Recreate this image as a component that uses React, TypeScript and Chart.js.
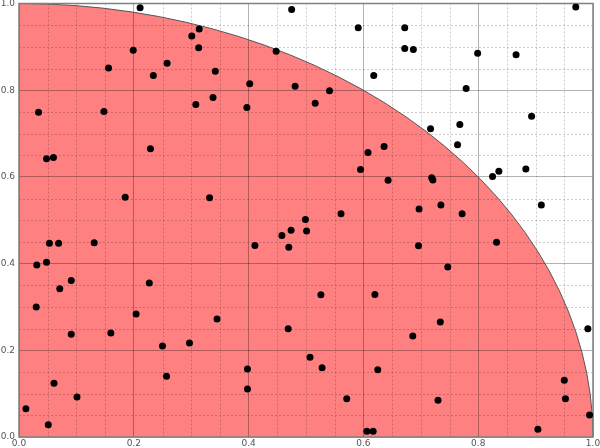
import { useEffect, useRef } from "react";
import { Chart, registerables } from "chart.js";

Chart.register(...registerables);

// random sample points (x, y)
const xs = [
  0.211, 0.314, 0.301, 0.313, 0.199, 0.258, 0.156, 0.234, 0.034, 0.148,
  0.308, 0.229, 0.475, 0.591, 0.448, 0.342, 0.402, 0.618, 0.481, 0.541,
  0.338, 0.397, 0.516, 0.636, 0.608, 0.970, 0.672, 0.672, 0.687, 0.799,
  0.866, 0.779, 0.893, 0.717, 0.768, 0.764, 0.883, 0.836, 0.825, 0.719,
  0.721, 0.910, 0.697, 0.735, 0.772, 0.696, 0.832, 0.747, 0.595, 0.643,
  0.332, 0.561, 0.499, 0.474, 0.458, 0.501, 0.411, 0.470, 0.526, 0.620,
  0.048, 0.060, 0.185, 0.053, 0.069, 0.131, 0.031, 0.048, 0.091, 0.071,
  0.227, 0.030, 0.204, 0.091, 0.160, 0.250, 0.297, 0.257, 0.061, 0.101,
  0.012, 0.051, 0.345, 0.469, 0.507, 0.528, 0.625, 0.398, 0.398, 0.571,
  0.606, 0.617, 0.734, 0.686, 0.991, 0.950, 0.952, 0.730, 0.994, 0.904,
];
const ys = [
  0.990, 0.941, 0.925, 0.898, 0.892, 0.862, 0.851, 0.834, 0.749, 0.751,
  0.767, 0.665, 0.986, 0.944, 0.890, 0.844, 0.815, 0.834, 0.809, 0.799,
  0.783, 0.760, 0.770, 0.670, 0.656, 0.992, 0.944, 0.896, 0.894, 0.885,
  0.882, 0.804, 0.740, 0.711, 0.721, 0.674, 0.618, 0.613, 0.601, 0.598,
  0.593, 0.535, 0.526, 0.535, 0.515, 0.441, 0.449, 0.392, 0.617, 0.592,
  0.552, 0.515, 0.502, 0.477, 0.465, 0.475, 0.442, 0.438, 0.328, 0.329,
  0.642, 0.645, 0.553, 0.447, 0.447, 0.448, 0.397, 0.403, 0.361, 0.342,
  0.355, 0.300, 0.284, 0.237, 0.240, 0.210, 0.217, 0.140, 0.124, 0.092,
  0.065, 0.028, 0.272, 0.250, 0.184, 0.160, 0.155, 0.157, 0.111, 0.088,
  0.013, 0.013, 0.265, 0.233, 0.250, 0.131, 0.088, 0.085, 0.051, 0.018,
];

const axisMin = 0;
const axisMax = 1;
const majorStep = 0.2;
const minorPerMajor = 4;

// quarter circle fill under the grid, minor grid + arc edge + frame on top of it
const quarterPlugin = {
  id: "quarter",
  beforeDraw(chart: any) {
    const { ctx, chartArea, scales } = chart;
    const cx = scales.x.getPixelForValue(0);
    const cy = scales.y.getPixelForValue(0);
    const rx = scales.x.getPixelForValue(1) - cx;
    const ry = cy - scales.y.getPixelForValue(1);
    ctx.save();
    ctx.beginPath();
    ctx.rect(chartArea.left, chartArea.top, chartArea.width, chartArea.height);
    ctx.clip();
    ctx.fillStyle = "#ff8080";
    ctx.beginPath();
    ctx.moveTo(cx, cy);
    ctx.ellipse(cx, cy, rx, ry, 0, -Math.PI / 2, 0);
    ctx.closePath();
    ctx.fill();
    ctx.restore();
  },
  beforeDatasetsDraw(chart: any) {
    const { ctx, chartArea, scales } = chart;
    const { left, right, top, bottom } = chartArea;
    ctx.save();
    // minor dashed grid
    ctx.strokeStyle = "rgba(0,0,0,0.2)";
    ctx.lineWidth = 1;
    ctx.setLineDash([2, 2]);
    const minorStep = majorStep / minorPerMajor;
    const n = Math.round((axisMax - axisMin) / minorStep);
    for (let i = 1; i < n; i++) {
      if (i % minorPerMajor === 0) continue;
      const v = axisMin + i * minorStep;
      const px = Math.round(scales.x.getPixelForValue(v)) + 0.5;
      const py = Math.round(scales.y.getPixelForValue(v)) + 0.5;
      ctx.beginPath();
      ctx.moveTo(px, top);
      ctx.lineTo(px, bottom);
      ctx.moveTo(left, py);
      ctx.lineTo(right, py);
      ctx.stroke();
    }
    ctx.setLineDash([]);
    // arc edge
    const cx = scales.x.getPixelForValue(0);
    const cy = scales.y.getPixelForValue(0);
    const rx = scales.x.getPixelForValue(1) - cx;
    const ry = cy - scales.y.getPixelForValue(1);
    ctx.strokeStyle = "#555555";
    ctx.beginPath();
    ctx.ellipse(cx, cy, rx, ry, 0, -Math.PI / 2, 0);
    ctx.stroke();
    // frame
    ctx.strokeStyle = "#808080";
    ctx.lineWidth = 1.5;
    ctx.strokeRect(left, top, right - left, bottom - top);
    ctx.restore();
  },
};

const PiScatter = () => {
  const chartRef = useRef<HTMLCanvasElement | null>(null);

  useEffect(() => {
    if (!chartRef.current) return;
    const ctx = chartRef.current.getContext("2d");
    if (!ctx) return;

    const points = xs.map((x, i) => ({ x, y: ys[i] }));
    const tickFont = { family: "DejaVu Sans", size: 9 };

    const chartInstance = new Chart(ctx, {
      type: "scatter",
      data: {
        datasets: [
          {
            data: points,
            backgroundColor: "#000000",
            borderWidth: 0,
            pointRadius: 3.5,
            pointHoverRadius: 3.5,
          },
        ],
      },
      options: {
        responsive: false,
        animation: false,
        layout: { padding: { top: 3, right: 7, left: 0, bottom: 0 } },
        plugins: { legend: { display: false }, tooltip: { enabled: false } },
        scales: {
          x: {
            type: "linear",
            min: axisMin,
            max: axisMax,
            ticks: {
              stepSize: majorStep,
              color: "#555555",
              font: tickFont,
              padding: 1,
              maxRotation: 0,
              callback: (v: any) => Number(v).toFixed(1),
            },
            grid: { color: "rgba(0,0,0,0.3)", drawTicks: false },
            border: { display: false },
            afterFit: (s: any) => {
              s.height = 11;
              s.paddingLeft = 0;
              s.paddingRight = 0;
            },
          },
          y: {
            type: "linear",
            min: axisMin,
            max: axisMax,
            ticks: {
              stepSize: majorStep,
              color: "#555555",
              font: tickFont,
              padding: 4,
              callback: (v: any) => Number(v).toFixed(1),
            },
            grid: { color: "rgba(0,0,0,0.3)", drawTicks: false },
            border: { display: false },
            afterFit: (s: any) => {
              s.width = 19;
              s.paddingTop = 0;
              s.paddingBottom = 0;
            },
          },
        },
      },
      plugins: [quarterPlugin],
    });

    return () => {
      chartInstance.destroy();
    };
  }, []);

  return (
    <div style={{ position: "fixed", left: 0, top: 0, width: 600, height: 448, background: "#fff" }}>
      <canvas ref={chartRef} width={600} height={448} style={{ display: "block" }}></canvas>
    </div>
  );
};

export default function App() {
  return <PiScatter />;
}
